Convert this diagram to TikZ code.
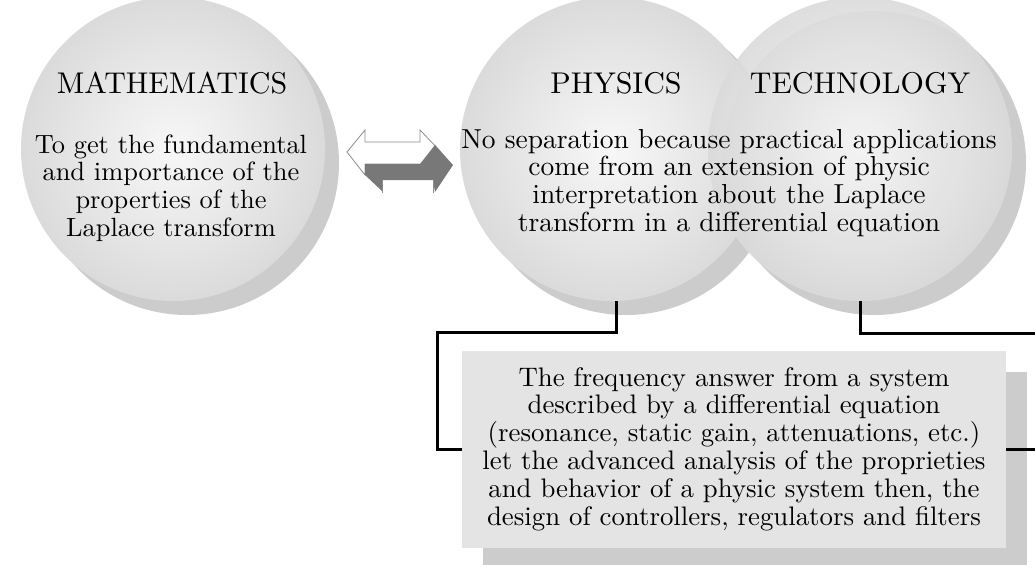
\documentclass[tikz,border=0pt]{standalone}
\usepackage{fontspec}
\setmainfont{lmroman10-regular.otf}[BoldFont=lmroman10-bold.otf,ItalicFont=lmroman10-italic.otf]
\usetikzlibrary{calc}
\definecolor{ShadowClr}{gray}{0.80}
\definecolor{BoxClr}{gray}{0.895}
\definecolor{ArrowClr}{gray}{0.47}
\definecolor{EdgeClr}{gray}{0.55}
\pgfdeclareradialshading{ballshade}{\pgfpoint{0bp}{0bp}}{color(0bp)=(gray!6); color(18bp)=(gray!22); color(50bp)=(gray!52)}

\begin{document}
\begin{tikzpicture}[x=0.5pt,y=-0.5pt,
  ball/.style={circle,inner sep=0pt,minimum size=152pt,shading=ballshade},
  ballshadow/.style={circle,inner sep=0pt,minimum size=152pt,fill=ShadowClr},
  title/.style={anchor=base,font=\fontsize{15}{18}\selectfont},
  body/.style={align=center,font=\fontsize{#1}{13.9}\selectfont},
  body/.default=13.75,
  link/.style={line width=1.5pt,line join=miter}]
\useasboundingbox (0,0) rectangle (1035,564);
\clip (0,0) rectangle (1035,564);

% the three balls with their shadows
\node[ballshadow] (mathsh) at (187,163) {};
\node[ball] (math) at (173,149) {};
\node[ballshadow] (physsh) at (626,163) {};
\node[ball] (phys) at (612,149) {};
\node[ballshadow] (techsh) at (874,163) {};
\node[ball,fill opacity=.92] (tech) at (860,149) {};

\node[title] (mathtitle) at (172,93) {MATHEMATICS};
\node[body=13.2] (mathtext) at (171,188) {To get the fundamental\\and importance of the\\properties of the\\Laplace transform};
\node[title] (phystitle) at (616,93) {PHYSICS};
\node[title] (techtitle) at (860,93) {TECHNOLOGY};
\node[body] (commontext) at (729,183) {No separation because practical applications\\come from an extension of physic\\interpretation about the Laplace\\transform in a differential equation};

% double arrow between the fields
\draw[EdgeClr,fill=white] (347,152) -- (365,130) -- (365,142) -- (420,142) -- (420,130)
  -- (440,151) -- (420,172) -- (420,164) -- (365,164) -- (365,175) -- cycle;
\fill[ArrowClr] (365,164) -- (420,164) -- (435,145) -- (453,165) -- (435,192) -- (433,180)
  -- (382,180) -- (382,191) -- (365,175) -- cycle;
\draw[EdgeClr] (382,180) -- (382,193) (433,180) -- (433,193);

% result box
\node[fill=ShadowClr,minimum width=272pt,minimum height=98.5pt] (boxsh) at (755,470) {};
\node[body=13.4,fill=BoxClr,minimum width=272pt,minimum height=98.5pt] (box) at (734,449)
  {The frequency answer from a system\\described by a differential equation\\(resonance, static gain, attenuations, etc.)\\let the advanced analysis of the proprieties\\and behavior of a physic system then, the\\design of controllers, regulators and filters};

% connectors
\coordinate (lk) at (437,332);
\coordinate (tk) at (1035,333);
\coordinate (bk) at (1035,449);
\draw[link] (phys.south -| phystitle) |- (lk) |- (box.west);
\draw[link] (tech.south) |- (tk);
\draw[link] (box.east) -- (bk);

\end{tikzpicture}
\end{document}
